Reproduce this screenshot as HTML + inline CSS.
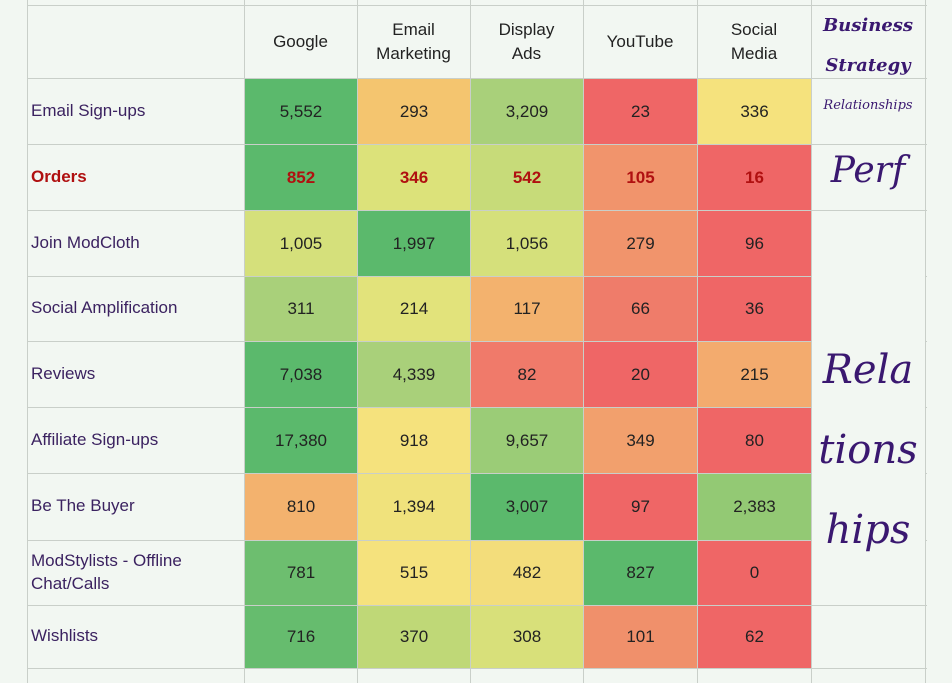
<!DOCTYPE html>
<html><head><meta charset="utf-8"><style>
body{margin:0;width:952px;height:683px;background:#f2f7f2;overflow:hidden;font-family:"Liberation Sans",sans-serif;position:relative}
.c{position:absolute;display:flex;align-items:center;justify-content:center;text-align:center;font-size:17px;color:#222;box-sizing:border-box}
.l{justify-content:flex-start;padding-left:4px;color:#3b2260;font-size:17px;text-align:left;line-height:1.3}
.v{position:absolute;top:0;width:1px;height:683px;background:#c9cfc9}
.h{position:absolute;left:27px;width:900px;height:1px;background:#c9cfc9}
.r{position:absolute;color:#3a1870;font-family:"DejaVu Serif",serif;font-style:italic;text-align:center}
</style></head><body>
<div class="v" style="left:27px"></div><div class="v" style="left:244px"></div><div class="v" style="left:357px"></div><div class="v" style="left:470px"></div><div class="v" style="left:583px"></div><div class="v" style="left:697px"></div><div class="v" style="left:811px"></div><div class="v" style="left:925px"></div>
<div class="h" style="top:5px"></div><div class="h" style="top:78px"></div><div class="h" style="top:144px"></div><div class="h" style="top:210px"></div><div class="h" style="top:276px"></div><div class="h" style="top:341px"></div><div class="h" style="top:407px"></div><div class="h" style="top:473px"></div><div class="h" style="top:540px"></div><div class="h" style="top:605px"></div><div class="h" style="top:668px"></div>
<div style="position:absolute;left:812px;top:211px;width:113px;height:393px;background:#f2f7f2"></div>
<div id="g"></div>
<div class="r" style="left:811px;top:6px;width:114px;font-size:18px;font-weight:bold;line-height:40px">Business<br>Strategy</div>
<div class="r" style="left:811px;top:98px;width:114px;font-size:13px">Relationships</div>
<div class="r" style="left:811px;top:150px;width:114px;font-size:36px">Perf</div>
<div class="r" style="left:811px;top:330px;width:114px;font-size:40px;line-height:80px">Rela<br>tions<br>hips</div>
<script>
const cols=[244,357,470,583,697,811];
const rows=[78,144,210,276,341,407,473,540,605,668];
const hd=["Google","Email<br>Marketing","Display<br>Ads","YouTube","Social<br>Media"];
const lab=["Email Sign-ups","Orders","Join ModCloth","Social Amplification","Reviews","Affiliate Sign-ups","Be The Buyer","ModStylists - Offline<br>Chat/Calls","Wishlists"];
const G="#5bb96c",LG="#a9d07a",YG="#d5e07b",Y="#f5e27d",O="#f3b26e",OR="#f1946c",R="#ef6666";
const d=[
[["5,552",G],["293","#f4c56f"],["3,209",LG],["23",R],["336",Y]],
[["852",G],["346","#dce27a"],["542","#c7db79"],["105",OR],["16",R]],
[["1,005",YG],["1,997",G],["1,056",YG],["279",OR],["96",R]],
[["311",LG],["214","#e2e37b"],["117",O],["66","#ef7c6a"],["36",R]],
[["7,038",G],["4,339",LG],["82","#f07a6a"],["20",R],["215","#f3ab6e"]],
[["17,380",G],["918",Y],["9,657","#9bcc77"],["349","#f2a06d"],["80",R]],
[["810",O],["1,394","#f0e27c"],["3,007",G],["97",R],["2,383","#93c974"]],
[["781","#6dbe6f"],["515",Y],["482","#f3dd7b"],["827",G],["0",R]],
[["716","#66bc6e"],["370","#bfd877"],["308","#d8e07a"],["101","#f0906b"],["62",R]]];
let h="";
for(let j=0;j<5;j++)h+=`<div class="c" style="left:${cols[j]}px;top:5px;width:${cols[j+1]-cols[j]}px;height:73px;line-height:1.4">${hd[j]}</div>`;
for(let i=0;i<9;i++){
 const t=rows[i],hh=rows[i+1]-t;
 const red=i==1;
 h+=`<div class="c l" style="left:27px;top:${t}px;width:217px;height:${hh}px;${red?'color:#b01010;font-weight:bold':''}">${lab[i]}</div>`;
 for(let j=0;j<5;j++){
  h+=`<div class="c" style="left:${cols[j]+1}px;top:${t+1}px;width:${cols[j+1]-cols[j]-1}px;height:${hh-1}px;background:${d[i][j][1]};${red?'color:#b01010;font-weight:bold':''}">${d[i][j][0]}</div>`;
 }
}
document.getElementById("g").innerHTML=h;
</script>
</body></html>
